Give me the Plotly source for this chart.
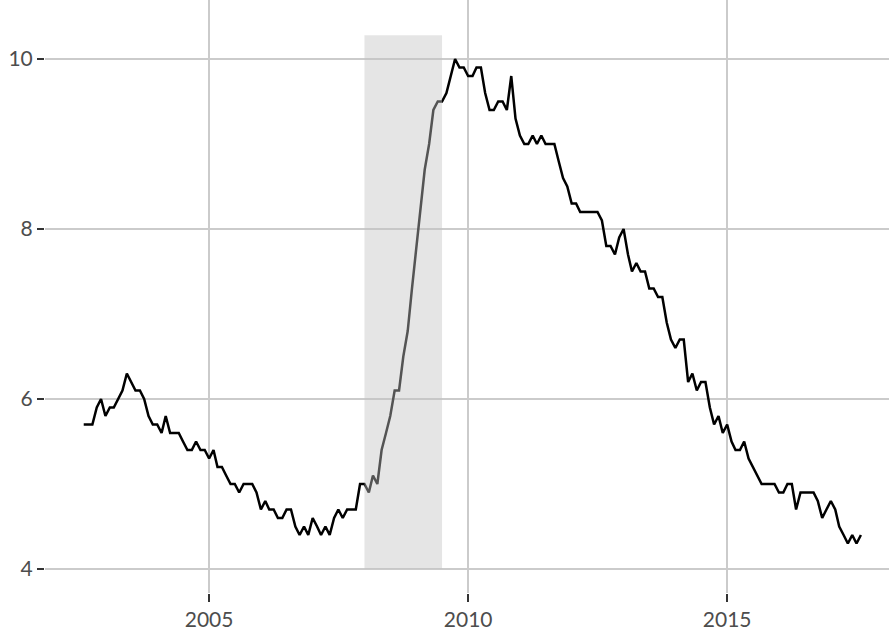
import pandas as pd
import plotly.graph_objects as go

# Monthly unemployment rate (%), Aug 2002 - Aug 2017
start_month = "2002-08-01"
rate_2002 = [5.7, 5.7, 5.7, 5.9, 6.0]
rate_2003 = [5.8, 5.9, 5.9, 6.0, 6.1, 6.3, 6.2, 6.1, 6.1, 6.0, 5.8, 5.7]
rate_2004 = [5.7, 5.6, 5.8, 5.6, 5.6, 5.6, 5.5, 5.4, 5.4, 5.5, 5.4, 5.4]
rate_2005 = [5.3, 5.4, 5.2, 5.2, 5.1, 5.0, 5.0, 4.9, 5.0, 5.0, 5.0, 4.9]
rate_2006 = [4.7, 4.8, 4.7, 4.7, 4.6, 4.6, 4.7, 4.7, 4.5, 4.4, 4.5, 4.4]
rate_2007 = [4.6, 4.5, 4.4, 4.5, 4.4, 4.6, 4.7, 4.6, 4.7, 4.7, 4.7, 5.0]
rate_2008 = [5.0, 4.9, 5.1, 5.0, 5.4, 5.6, 5.8, 6.1, 6.1, 6.5, 6.8, 7.3]
rate_2009 = [7.8, 8.3, 8.7, 9.0, 9.4, 9.5, 9.5, 9.6, 9.8, 10.0, 9.9, 9.9]
rate_2010 = [9.8, 9.8, 9.9, 9.9, 9.6, 9.4, 9.4, 9.5, 9.5, 9.4, 9.8, 9.3]
rate_2011 = [9.1, 9.0, 9.0, 9.1, 9.0, 9.1, 9.0, 9.0, 9.0, 8.8, 8.6, 8.5]
rate_2012 = [8.3, 8.3, 8.2, 8.2, 8.2, 8.2, 8.2, 8.1, 7.8, 7.8, 7.7, 7.9]
rate_2013 = [8.0, 7.7, 7.5, 7.6, 7.5, 7.5, 7.3, 7.3, 7.2, 7.2, 6.9, 6.7]
rate_2014 = [6.6, 6.7, 6.7, 6.2, 6.3, 6.1, 6.2, 6.2, 5.9, 5.7, 5.8, 5.6]
rate_2015 = [5.7, 5.5, 5.4, 5.4, 5.5, 5.3, 5.2, 5.1, 5.0, 5.0, 5.0, 5.0]
rate_2016 = [4.9, 4.9, 5.0, 5.0, 4.7, 4.9, 4.9, 4.9, 4.9, 4.8, 4.6, 4.7]
rate_2017 = [4.8, 4.7, 4.5, 4.4, 4.3, 4.4, 4.3, 4.4]

# Recession period
recession_start = "2008-01-01"
recession_end = "2009-07-01"

# Axis ticks
x_tick_dates = ["2005-01-01", "2010-01-01", "2015-01-01"]
x_tick_labels = ["2005", "2010", "2015"]
y_tick_values = [4, 6, 8, 10]

rates = (rate_2002 + rate_2003 + rate_2004 + rate_2005 + rate_2006 + rate_2007
         + rate_2008 + rate_2009 + rate_2010 + rate_2011 + rate_2012 + rate_2013
         + rate_2014 + rate_2015 + rate_2016 + rate_2017)
dates = pd.date_range(start_month, periods=len(rates), freq="MS")

fig = go.Figure()
fig.add_trace(go.Scatter(
    x=dates, y=rates, mode="lines",
    line=dict(color="black", width=2.5),
    hoverinfo="x+y", showlegend=False,
))

# Translucent recession band drawn over the line
fig.add_shape(
    type="rect", xref="x", yref="y",
    x0=recession_start, x1=recession_end, y0=4.0, y1=10.28,
    fillcolor="rgba(195,195,195,0.43)", line=dict(width=0), layer="above",
)

tick_font = dict(family="Lato, sans-serif", size=21, color="#4d4d4d")
grid_color = "#cbcbcb"

fig.update_layout(
    width=889, height=633,
    margin=dict(l=45, r=0, t=0, b=40),
    paper_bgcolor="white", plot_bgcolor="white",
    xaxis=dict(
        type="date", range=["2001-11-01", "2018-02-15"],
        tickvals=x_tick_dates, ticktext=x_tick_labels,
        showgrid=True, gridcolor=grid_color, gridwidth=2,
        zeroline=False, showline=False,
        ticks="outside", ticklen=8, tickwidth=2, tickcolor="#333333",
        tickfont=tick_font,
    ),
    yaxis=dict(
        range=[3.718, 10.694],
        tickvals=y_tick_values,
        showgrid=True, gridcolor=grid_color, gridwidth=2,
        zeroline=False, showline=False,
        ticks="outside", ticklen=7, tickwidth=2, tickcolor="#333333",
        tickfont=tick_font,
    ),
)

fig.write_html("out.html")
